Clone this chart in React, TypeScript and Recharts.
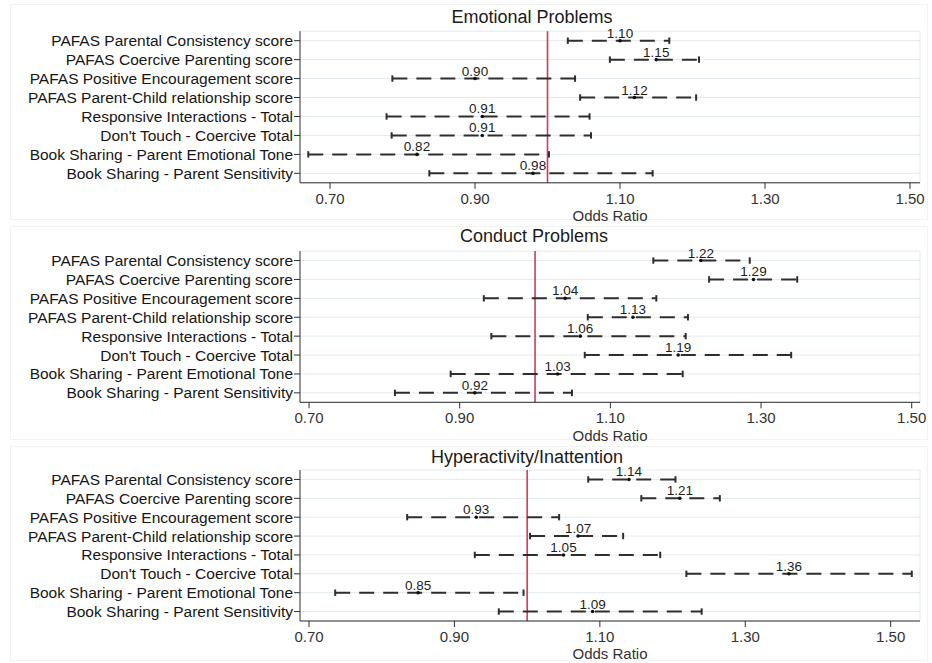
import { CartesianGrid, ErrorBar, LabelList, ReferenceLine, Scatter, ScatterChart, XAxis, YAxis, ZAxis } from "recharts";

const FONT = "'Liberation Sans', Arial, sans-serif";
const RED = "#cf3a5c";
const INK = "#2e2e2e";
const GRID = "#e2eaed";

const rowLabels = [
  "PAFAS Parental Consistency score",
  "PAFAS Coercive Parenting score",
  "PAFAS Positive Encouragement score",
  "PAFAS Parent-Child relationship score",
  "Responsive Interactions - Total",
  "Don't Touch - Coercive Total",
  "Book Sharing - Parent Emotional Tone",
  "Book Sharing - Parent Sensitivity",
];
const rowTicks = [1, 2, 3, 4, 5, 6, 7, 8];
const xTicks = [0.7, 0.9, 1.1, 1.3, 1.5];

const emotionalOR = [1.1, 1.15, 0.9, 1.12, 0.91, 0.91, 0.82, 0.98];
const emotionalLow = [1.028, 1.086, 0.786, 1.045, 0.778, 0.785, 0.67, 0.837];
const emotionalHigh = [1.168, 1.209, 1.038, 1.205, 1.058, 1.06, 1.002, 1.145];

const conductOR = [1.22, 1.29, 1.04, 1.13, 1.06, 1.19, 1.03, 0.92];
const conductLow = [1.157, 1.231, 0.932, 1.07, 0.942, 1.066, 0.888, 0.814];
const conductHigh = [1.285, 1.348, 1.161, 1.203, 1.2, 1.34, 1.196, 1.049];

const hyperOR = [1.14, 1.21, 0.93, 1.07, 1.05, 1.36, 0.85, 1.09];
const hyperLow = [1.084, 1.157, 0.835, 1.004, 0.928, 1.219, 0.736, 0.961];
const hyperHigh = [1.204, 1.265, 1.044, 1.132, 1.183, 1.529, 0.995, 1.24];

function buildRows(or: number[], low: number[], high: number[]) {
  return or.map((v, i) => ({ row: i + 1, or: v, err: [v - low[i], high[i] - v] }));
}

type PanelProps = {
  title: string;
  or: number[];
  low: number[];
  high: number[];
  top: number;
  height: number;
  plotTop: number;
  plotBottom: number;
  domain: [number, number];
  labelBaseline: number;
  tickGap: number;
  titleX: number;
  titleY: number;
};

function ForestPanel(p: PanelProps) {
  const data = buildRows(p.or, p.low, p.high);
  return (
    <div style={{ position: "absolute", left: 0, top: p.top, width: 932, height: p.height }}>
      <div
        style={{
          position: "absolute",
          left: 10,
          top: 4,
          width: 916,
          height: p.height - 8,
          border: "1px solid #f2f4f4",
        }}
      />
      <div
        style={{
          position: "absolute",
          left: p.titleX - 200,
          top: p.titleY - 11,
          width: 400,
          textAlign: "center",
          fontSize: 18,
          lineHeight: "22px",
          color: "#1a1a1a",
        }}
      >
        {p.title}
      </div>
      <div style={{ position: "absolute", left: 0, top: 0 }}>
        <ScatterChart width={932} height={p.height} margin={{ top: p.plotTop, right: 12, bottom: 0, left: 0 }}>
          <CartesianGrid vertical={false} stroke={GRID} />
          <XAxis
            type="number"
            dataKey="or"
            domain={p.domain}
            allowDataOverflow
            ticks={xTicks}
            interval={0}
            tickFormatter={(v: number) => v.toFixed(2)}
            stroke={INK}
            tickSize={6}
            tickMargin={p.tickGap}
            height={p.height - p.plotBottom}
            tick={{ fontSize: 15, fill: "#333", fontFamily: FONT }}
            label={{
              value: "Odds Ratio",
              position: "insideBottom",
              offset: p.height - p.labelBaseline,
              fontSize: 15,
              fill: "#333",
              fontFamily: FONT,
            }}
          />
          <YAxis
            type="number"
            dataKey="row"
            domain={[0.5, 8.5]}
            reversed
            ticks={rowTicks}
            interval={0}
            tickFormatter={(v: number) => rowLabels[v - 1] ?? ""}
            width={300}
            stroke={INK}
            tickSize={6}
            tickMargin={1}
            tick={{ fontSize: 15.5, fill: "#161616", fontFamily: FONT }}
          />
          <ZAxis range={[12, 12]} />
          <ReferenceLine x={p.domain[1]} stroke={GRID} />
          <ReferenceLine x={1} stroke={RED} strokeWidth={1.6} />
          <Scatter
            data={data}
            isAnimationActive={false}
            shape={(s: any) => <circle cx={s.cx} cy={s.cy} r={1.8} fill="#111" />}
          >
            <ErrorBar
              dataKey="err"
              direction="x"
              width={3.2}
              stroke={INK}
              strokeWidth={2}
              strokeDasharray="15 9"
              isAnimationActive={false}
            />
            <LabelList
              dataKey="or"
              position="top"
              offset={-1.5}
              formatter={(v: any) => Number(v).toFixed(2)}
              style={{ fontSize: 13.5, fill: "#1d1d1d", fontFamily: FONT }}
            />
          </Scatter>
        </ScatterChart>
      </div>
    </div>
  );
}

export default function App() {
  return (
    <div
      style={{
        position: "absolute",
        left: 0,
        top: 0,
        width: 932,
        height: 663,
        background: "#fff",
        fontFamily: FONT,
        overflow: "hidden",
      }}
    >
      <ForestPanel
        title="Emotional Problems"
        or={emotionalOR}
        low={emotionalLow}
        high={emotionalHigh}
        top={0}
        height={222}
        plotTop={31.2}
        plotBottom={182.8}
        domain={[0.6586, 1.5138]}
        labelBaseline={220.5}
        tickGap={5}
        titleX={532}
        titleY={17}
      />
      <ForestPanel
        title="Conduct Problems"
        or={conductOR}
        low={conductLow}
        high={conductHigh}
        top={222}
        height={220}
        plotTop={29.1}
        plotBottom={180.3}
        domain={[0.688, 1.511]}
        labelBaseline={218.5}
        tickGap={4}
        titleX={534}
        titleY={14}
      />
      <ForestPanel
        title="Hyperactivity/Inattention"
        or={hyperOR}
        low={hyperLow}
        high={hyperHigh}
        top={442}
        height={221}
        plotTop={28}
        plotBottom={179}
        domain={[0.6876, 1.5403]}
        labelBaseline={217}
        tickGap={4}
        titleX={527}
        titleY={15}
      />
    </div>
  );
}
